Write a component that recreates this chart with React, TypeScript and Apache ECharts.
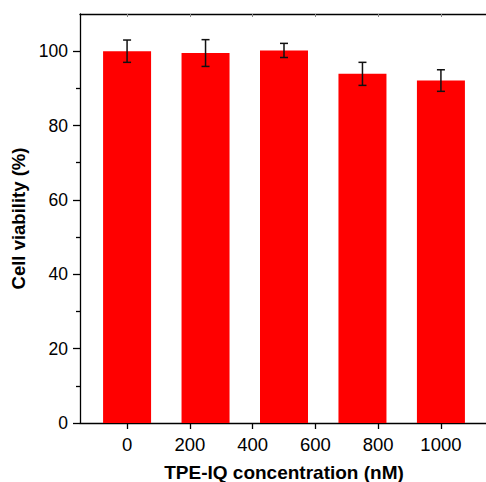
import React, { useEffect, useRef } from "react";
import * as echarts from "echarts";

// TPE-IQ concentrations (nM) at which each bar is placed on the x axis
const concentrations = [0, 250, 500, 750, 1000];
// Mean cell viability (%) and its standard deviation
const viability = [100, 99.5, 100.2, 93.9, 92.1];
const viabilityErr = [3.0, 3.6, 1.9, 3.1, 2.9];

const xTicks = [0, 200, 400, 600, 800, 1000];
const yTicks = [0, 20, 40, 60, 80, 100];
const yMinorTicks = [10, 30, 50, 70, 90];

const FONT = "'Liberation Sans', Arial, Helvetica, sans-serif";

export default function App() {
  const ref = useRef<HTMLDivElement>(null);

  useEffect(() => {
    if (!ref.current) return;
    const chart = echarts.init(ref.current, undefined, { renderer: "svg" });

    const barData = concentrations.map((c, i) => [c, viability[i]]);
    const errData = concentrations.map((c, i) => [
      c,
      viability[i] - viabilityErr[i],
      viability[i] + viabilityErr[i],
    ]);

    const lineStyle = { color: "#000", width: 1.3 };
    const plain = (v: number) => String(v);
    const rect = {
      left: 80,
      top: 14,
      width: 408,
      height: 409,
      containLabel: false,
      outerBoundsMode: "none",
    };

    chart.setOption({
      animation: false,
      backgroundColor: "#fff",
      textStyle: { fontFamily: FONT },
      // second grid shares the plot rectangle and only carries the minor y ticks
      grid: [rect, { ...rect }],
      xAxis: [
        {
          type: "value",
          gridIndex: 0,
          min: -150,
          max: 1150,
          position: "bottom",
          splitLine: { show: false },
          axisLine: { show: true, onZero: false, lineStyle },
          axisTick: {
            show: true,
            length: 6,
            customValues: xTicks,
            lineStyle,
          },
          axisLabel: {
            customValues: xTicks,
            formatter: plain,
            margin: 12,
            fontSize: 18.5,
            color: "#000",
            fontFamily: FONT,
          },
          name: "TPE-IQ concentration (nM)",
          nameLocation: "middle",
          nameGap: 40,
          nameTextStyle: {
            fontSize: 19,
            lineHeight: 18,
            fontWeight: "bold",
            color: "#000",
            fontFamily: FONT,
          },
        },
        {
          type: "value",
          gridIndex: 0,
          min: -150,
          max: 1150,
          position: "top",
          splitLine: { show: false },
          axisLine: { show: true, onZero: false, lineStyle },
          axisTick: {
            show: true,
            inside: true,
            length: 3,
            customValues: xTicks,
            lineStyle: { color: "#888", width: 1 },
          },
          axisLabel: { show: false },
        },
        {
          type: "value",
          gridIndex: 1,
          min: -150,
          max: 1150,
          show: false,
        },
      ],
      yAxis: [
        {
          type: "value",
          gridIndex: 0,
          min: 0,
          max: 110,
          position: "left",
          splitLine: { show: false },
          axisLine: { show: true, onZero: false, lineStyle },
          axisTick: {
            show: true,
            length: 7,
            customValues: yTicks,
            lineStyle,
          },
          axisLabel: {
            customValues: yTicks,
            formatter: plain,
            margin: 12,
            fontSize: 17.5,
            color: "#000",
            fontFamily: FONT,
          },
          name: "Cell viability (%)",
          nameLocation: "middle",
          nameGap: 42,
          nameTextStyle: {
            fontSize: 18.5,
            fontWeight: "bold",
            color: "#000",
            fontFamily: FONT,
          },
        },
        {
          type: "value",
          gridIndex: 1,
          min: 0,
          max: 110,
          position: "left",
          splitLine: { show: false },
          axisLine: { show: false, onZero: false },
          axisTick: {
            show: true,
            length: 4,
            customValues: yMinorTicks,
            lineStyle,
          },
          axisLabel: { show: false },
        },
      ],
      series: [
        {
          type: "bar",
          xAxisIndex: 0,
          yAxisIndex: 0,
          data: barData,
          barWidth: 48,
          itemStyle: { color: "#ff0000" },
        },
        {
          type: "custom",
          xAxisIndex: 0,
          yAxisIndex: 0,
          data: errData,
          z: 10,
          renderItem: (params: any, api: any) => {
            const x = api.value(0);
            const lo = api.coord([x, api.value(1)]);
            const hi = api.coord([x, api.value(2)]);
            const cap = 4;
            const style = { stroke: "#111", lineWidth: 1.5 };
            return {
              type: "group",
              children: [
                { type: "line", shape: { x1: lo[0], y1: lo[1], x2: hi[0], y2: hi[1] }, style },
                { type: "line", shape: { x1: hi[0] - cap, y1: hi[1], x2: hi[0] + cap, y2: hi[1] }, style },
                { type: "line", shape: { x1: lo[0] - cap, y1: lo[1], x2: lo[0] + cap, y2: lo[1] }, style },
              ],
            };
          },
        },
      ],
    });

    return () => chart.dispose();
  }, []);

  return (
    <div
      ref={ref}
      style={{ position: "absolute", left: 0, top: 0, width: 486, height: 482 }}
    />
  );
}
